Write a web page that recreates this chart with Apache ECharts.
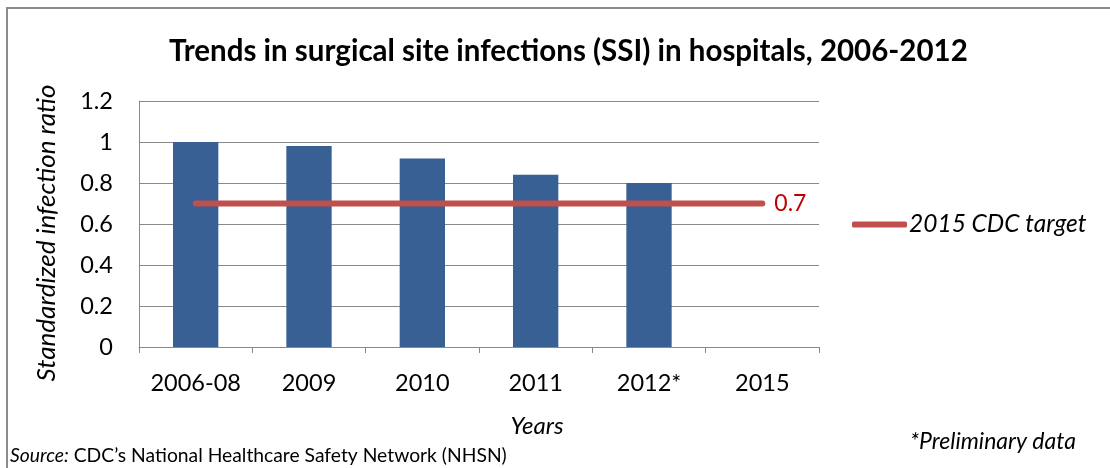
<!DOCTYPE html>
<html>
<head>
<meta charset="utf-8">
<script src="https://cdn.jsdelivr.net/npm/echarts@6/dist/echarts.min.js"></script>
<style>
html, body { margin: 0; padding: 0; background: #fff; }
#main { width: 1110px; height: 468px; }
</style>
</head>
<body>
<div id="main"></div>
<script>
//categories and values
const years = ['2006-08', '2009', '2010', '2011', '2012*', '2015'];
const ssiRatio = [1.0, 0.98, 0.92, 0.84, 0.80, null];
const targetValue = [0.7, 0.7, 0.7, 0.7, 0.7, 0.7];
const yTicks = [0, 0.2, 0.4, 0.6, 0.8, 1, 1.2];

const font = 'Lato';
const chart = echarts.init(document.getElementById('main'));

const option = {
    backgroundColor: '#fff',
    animation: false,
    title: {
        text: 'Trends in surgical site infections (SSI) in hospitals, 2006-2012',
        left: 164,
        top: 31,
        textStyle: { fontFamily: font, fontWeight: 'bold', fontSize: 29.5, color: '#000' }
    },
    grid: { left: 139, right: 291, top: 101, bottom: 121 },
    legend: {
        data: ['2015 CDC target'],
        left: 852,
        top: 212,
        padding: 0,
        icon: 'roundRect',
        itemWidth: 55,
        itemHeight: 6,
        textStyle: { fontFamily: font, fontStyle: 'italic', fontSize: 24.5, color: '#000', padding: [0, 0, 0, -3] }
    },
    xAxis: {
        type: 'category',
        data: years,
        name: 'Years',
        nameLocation: 'middle',
        nameGap: 67,
        nameTextStyle: { fontFamily: font, fontStyle: 'italic', fontSize: 24, color: '#000', padding: [0, 0, 0, 116] },
        axisLine: { lineStyle: { color: '#898989', width: 1 } },
        axisTick: { show: true, length: 6, lineStyle: { color: '#898989' } },
        axisLabel: { fontFamily: font, fontSize: 23.5, color: '#000', margin: 24, interval: 0 }
    },
    yAxis: {
        type: 'value',
        min: 0,
        max: 1.2,
        interval: 0.2,
        name: 'Standardized infection ratio',
        nameLocation: 'middle',
        nameGap: 79,
        nameTextStyle: { fontFamily: font, fontStyle: 'italic', fontSize: 26, color: '#000', padding: [0, 18, 0, 0] },
        axisLine: { show: true, lineStyle: { color: '#898989', width: 1 } },
        axisTick: { show: false },
        splitLine: { lineStyle: { color: '#898989', width: 1 } },
        axisLabel: {
            fontFamily: font, fontSize: 23.5, color: '#000', margin: 26,
            formatter: function (v) {
                let hit = yTicks.find(function (t) { return Math.abs(t - v) < 1e-6; });
                return hit === undefined ? '' : String(hit);
            }
        }
    },
    series: [
        {
            name: 'SSI',
            type: 'bar',
            data: ssiRatio,
            barWidth: '40%',
            itemStyle: { color: '#386094' }
        },
        {
            name: '2015 CDC target',
            type: 'line',
            data: targetValue,
            showSymbol: false,
            symbol: 'none',
            lineStyle: { color: '#C0504D', width: 6, cap: 'round' },
            itemStyle: { color: '#C0504D' },
            endLabel: {
                show: true,
                formatter: '0.7',
                distance: 12,
                fontFamily: font,
                fontSize: 23,
                color: '#C00000'
            }
        }
    ],
    graphic: [
        {
            type: 'rect',
            shape: { x: 7, y: 8, width: 1200, height: 500 },
            style: { fill: 'none', stroke: '#8c8c8c', lineWidth: 2 },
            silent: true
        },
        {
            type: 'text',
            left: 10,
            top: 446,
            style: {
                text: '{i|Source:} CDC\u2019s National Healthcare Safety Network (NHSN)',
                font: '19.3px ' + font,
                fill: '#000',
                rich: { i: { fontFamily: font, fontStyle: 'italic', fontSize: 19.3, fill: '#000' } }
            }
        },
        {
            type: 'text',
            left: 910,
            top: 430,
            style: { text: '*Preliminary data', font: 'italic 23px ' + font, fill: '#000' }
        }
    ]
};

chart.setOption(option);
</script>
</body>
</html>
